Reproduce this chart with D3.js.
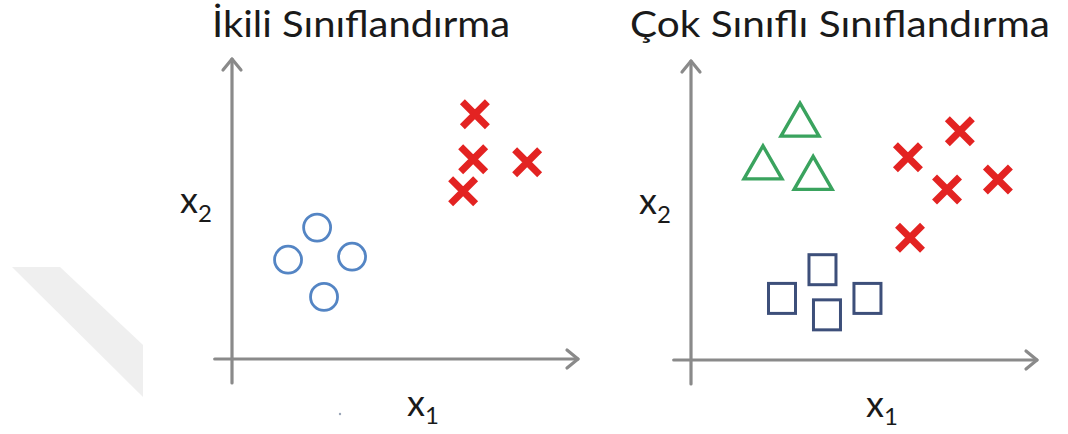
<!DOCTYPE html>
<html>
<head>
<meta charset="utf-8">
<script src="https://cdn.jsdelivr.net/npm/d3@7"></script>
<style>
  html, body { margin: 0; padding: 0; background: #ffffff; }
  svg { display: block; }
</style>
</head>
<body>
<svg id="chart" width="1068" height="434"></svg>
<script>
// ---- Data (x1, x2 in axis units, 0..100) ----
const titles = ["İkili Sınıflandırma", "Çok Sınıflı Sınıflandırma"];
const axisLabelX = "x";
const axisSubX = "1";
const axisLabelY = "x";
const axisSubY = "2";

// Panel 1: binary classification
const binaryCrosses = [[70.2, 81.6], [69.7, 66.6], [85.3, 65.6], [66.8, 55.9]];
const binaryCircles = [[24.6, 43.8], [16.2, 33.1], [34.7, 34.1], [26.6, 20.7]];

// Panel 2: multi-class classification
const multiTriangles = [[31.5, 80.4], [20.8, 66.1], [35.3, 62.6]];
const multiCrosses = [[77.7, 76.5], [62.7, 67.8], [74.0, 57.0], [88.7, 60.4], [63.3, 40.9]];
const multiSquares = [[38.0, 30.2], [26.3, 20.6], [39.3, 15.1], [51.0, 20.6]];

// ---- Drawing ----
const svg = d3.select("#chart");
const axisColor = "#8a8a8a";
const textColor = "#1a1a1a";
const font = "Lato, 'Open Sans', sans-serif";

// faint background decoration from the source image
svg.append("path")
  .attr("d", "M12,267 L60,267 L143,345 L143,397 Z")
  .attr("fill", "#efefef");
svg.append("circle").attr("cx", 340).attr("cy", 414).attr("r", 1.2).attr("fill", "#9aa6b8");

const panels = [
  { title: titles[0], titleX: 212, titleW: 298,
    xRange: [232, 578], yRange: [359, 59],
    series: [
      { type: "cross", data: binaryCrosses },
      { type: "circle", data: binaryCircles }
    ] },
  { title: titles[1], titleX: 630, titleW: 420,
    xRange: [691, 1037], yRange: [360, 61],
    series: [
      { type: "triangle", data: multiTriangles },
      { type: "cross", data: multiCrosses },
      { type: "square", data: multiSquares }
    ] }
];

panels.forEach(p => {
  const x = d3.scaleLinear().domain([0, 100]).range(p.xRange);
  const y = d3.scaleLinear().domain([0, 100]).range(p.yRange);
  const g = svg.append("g");

  // title
  const t = g.append("text")
    .attr("x", p.titleX).attr("y", 37)
    .attr("font-family", font).attr("font-size", 36)
    .attr("fill", textColor)
    .text(p.title);
  t.attr("textLength", p.titleW).attr("lengthAdjust", "spacingAndGlyphs");

  // axes
  const ax = g.append("g")
    .attr("stroke", axisColor).attr("stroke-width", 3.2).attr("fill", "none")
    .attr("stroke-linecap", "round").attr("stroke-linejoin", "round");
  ax.append("line").attr("x1", x(0)).attr("x2", x(0)).attr("y1", y(-8)).attr("y2", y(100));
  ax.append("line").attr("x1", x(-5)).attr("x2", x(100)).attr("y1", y(0)).attr("y2", y(0));
  // arrowheads (open chevrons)
  ax.append("path").attr("d", `M${x(0) - 9},${y(100) + 11} L${x(0)},${y(100)} L${x(0) + 9},${y(100) + 11}`);
  ax.append("path").attr("d", `M${x(100) - 11},${y(0) - 9} L${x(100)},${y(0)} L${x(100) - 11},${y(0) + 9}`);

  // axis labels
  const lx = g.append("text")
    .attr("x", x(0) + 175).attr("y", y(0) + 57)
    .attr("font-family", font).attr("font-size", 36).attr("fill", textColor);
  lx.append("tspan").text(axisLabelX);
  lx.append("tspan").attr("font-size", 24).attr("dy", 8).text(axisSubX);

  const ly = g.append("text")
    .attr("x", x(0) - 52).attr("y", p.yRange[0] - 146)
    .attr("font-family", font).attr("font-size", 36).attr("fill", textColor);
  ly.append("tspan").text(axisLabelY);
  ly.append("tspan").attr("font-size", 24).attr("dy", 9).text(axisSubY);

  // markers
  p.series.forEach(s => {
    const mg = g.append("g");
    if (s.type === "cross") {
      const a = 12.5;
      mg.selectAll("path").data(s.data).join("path")
        .attr("d", d => `M${x(d[0]) - a},${y(d[1]) - a} L${x(d[0]) + a},${y(d[1]) + a} M${x(d[0]) + a},${y(d[1]) - a} L${x(d[0]) - a},${y(d[1]) + a}`)
        .attr("stroke", "#e32322").attr("stroke-width", 7).attr("fill", "none");
    } else if (s.type === "circle") {
      mg.selectAll("circle").data(s.data).join("circle")
        .attr("cx", d => x(d[0])).attr("cy", d => y(d[1])).attr("r", 13.5)
        .attr("stroke", "#5485c4").attr("stroke-width", 2.8).attr("fill", "none");
    } else if (s.type === "triangle") {
      const w = 19, h = 16.5;
      mg.selectAll("path").data(s.data).join("path")
        .attr("d", d => `M${x(d[0])},${y(d[1]) - h} L${x(d[0]) + w},${y(d[1]) + h} L${x(d[0]) - w},${y(d[1]) + h} Z`)
        .attr("stroke", "#3aa35e").attr("stroke-width", 3.4).attr("fill", "none")
        .attr("stroke-linejoin", "miter");
    } else if (s.type === "square") {
      const w = 27, h = 30;
      mg.selectAll("rect").data(s.data).join("rect")
        .attr("x", d => x(d[0]) - w / 2).attr("y", d => y(d[1]) - h / 2)
        .attr("width", w).attr("height", h)
        .attr("stroke", "#3d4f7a").attr("stroke-width", 3).attr("fill", "none");
    }
  });
});
</script>
</body>
</html>
